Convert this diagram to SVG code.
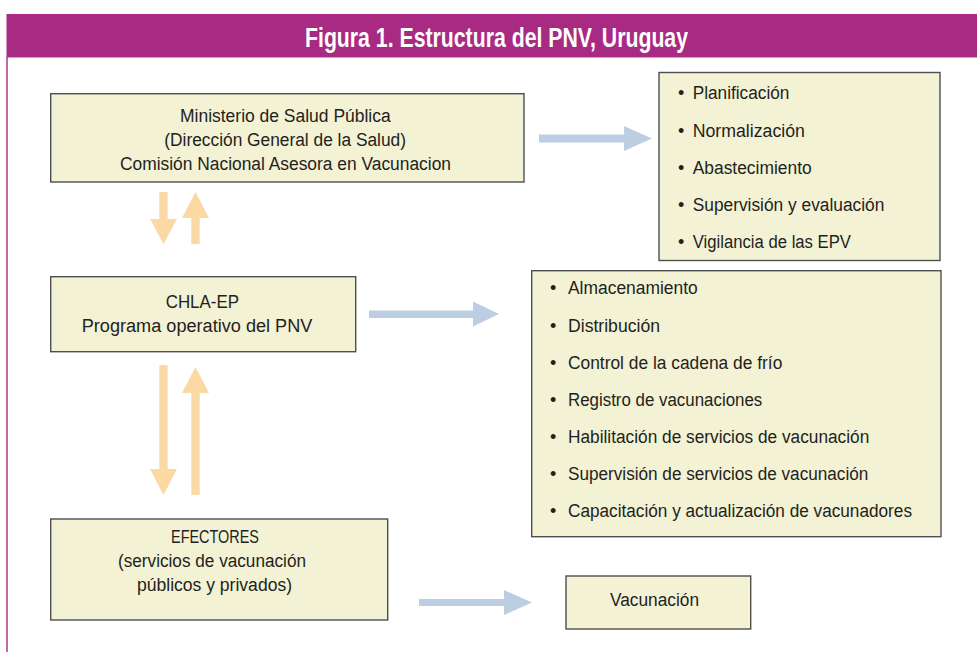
<svg xmlns="http://www.w3.org/2000/svg" width="977" height="652" viewBox="0 0 977 652">
<style>
.box{fill:#F3F2D4;stroke:#4F4F4F;stroke-width:1.4}
.t{font-family:"Liberation Sans",Arial,sans-serif;font-size:18px;fill:#231F20}
.title{font-family:"Liberation Sans",Arial,sans-serif;font-size:27px;font-weight:bold;fill:#FFFFFF}
.orange{fill:#FAD9A4}
.blue{fill:#BDCEE2}
</style>
<rect x="0" y="0" width="977" height="652" fill="#FFFFFF"/>
<g id="header">
<rect x="6.5" y="14" width="971" height="43" fill="#A82A82"/>
<line x1="6.5" y1="57.5" x2="977" y2="57.5" stroke="#D89CC6" stroke-width="1"/>
<line x1="7" y1="57" x2="7" y2="652" stroke="#A82A82" stroke-width="1.4"/>
<text class="title" x="305" y="47" textLength="383" lengthAdjust="spacingAndGlyphs">Figura 1. Estructura del PNV, Uruguay</text>
</g>
<g id="connectors">
<polygon class="orange" points="159.3,192 167.7,192 167.7,219 177,219 163.5,244 150,219 159.3,219"/>
<polygon class="orange" points="191.3,244 199.7,244 199.7,218 209,218 195.5,192 182,218 191.3,218"/>
<polygon class="orange" points="159.3,365 167.7,365 167.7,469 177,469 163.5,495 150,469 159.3,469"/>
<polygon class="orange" points="191.3,495 199.7,495 199.7,393 209,393 195.5,367 182,393 191.3,393"/>
<polygon class="blue" points="539,134.5 624,134.5 624,126 652,138.5 624,151 624,142.5 539,142.5"/>
<polygon class="blue" points="369,310.5 473,310.5 473,301.5 499,314 473,326.5 473,318 369,318"/>
<polygon class="blue" points="419,599 504,599 504,590 532,602.5 504,615 504,606 419,606"/>
</g>
<g id="node-msp">
<rect class="box" x="50.7" y="93.7" width="473.3" height="88.3"/>
<text class="t" x="180" y="121.7" textLength="210.7" lengthAdjust="spacingAndGlyphs">Ministerio de Salud Pública</text>
<text class="t" x="164.3" y="145.7" textLength="241.7" lengthAdjust="spacingAndGlyphs">(Dirección General de la Salud)</text>
<text class="t" x="120" y="170" textLength="331" lengthAdjust="spacingAndGlyphs">Comisión Nacional Asesora en Vacunacion</text>
</g>
<g id="node-funciones-msp">
<rect class="box" x="659" y="72.5" width="281" height="188"/>
<text class="t" x="678" y="99.3">•</text>
<text class="t" x="692.7" y="99.3" textLength="96.7" lengthAdjust="spacingAndGlyphs">Planificación</text>
<text class="t" x="678" y="136.7">•</text>
<text class="t" x="692.7" y="136.7" textLength="112.3" lengthAdjust="spacingAndGlyphs">Normalización</text>
<text class="t" x="678" y="173.5">•</text>
<text class="t" x="692.7" y="173.5" textLength="119" lengthAdjust="spacingAndGlyphs">Abastecimiento</text>
<text class="t" x="678" y="210.7">•</text>
<text class="t" x="692.7" y="210.7" textLength="191.7" lengthAdjust="spacingAndGlyphs">Supervisión y evaluación</text>
<text class="t" x="678" y="247.7">•</text>
<text class="t" x="692.7" y="247.7" textLength="158.3" lengthAdjust="spacingAndGlyphs">Vigilancia de las EPV</text>
</g>
<g id="node-chla">
<rect class="box" x="50.7" y="276.7" width="305" height="75"/>
<text class="t" x="165.7" y="308.3" textLength="73.3" lengthAdjust="spacingAndGlyphs">CHLA-EP</text>
<text class="t" x="81.7" y="331.7" textLength="230.7" lengthAdjust="spacingAndGlyphs">Programa operativo del PNV</text>
</g>
<g id="node-funciones-chla">
<rect class="box" x="531.7" y="270.7" width="409.3" height="266"/>
<text class="t" x="550" y="294.3">•</text>
<text class="t" x="568" y="294.3" textLength="129.7" lengthAdjust="spacingAndGlyphs">Almacenamiento</text>
<text class="t" x="550" y="331.7">•</text>
<text class="t" x="568" y="331.7" textLength="92" lengthAdjust="spacingAndGlyphs">Distribución</text>
<text class="t" x="550" y="369">•</text>
<text class="t" x="568" y="369" textLength="214.3" lengthAdjust="spacingAndGlyphs">Control de la cadena de frío</text>
<text class="t" x="550" y="405.7">•</text>
<text class="t" x="568" y="405.7" textLength="194.3" lengthAdjust="spacingAndGlyphs">Registro de vacunaciones</text>
<text class="t" x="550" y="442.7">•</text>
<text class="t" x="568" y="442.7" textLength="301.3" lengthAdjust="spacingAndGlyphs">Habilitación de servicios de vacunación</text>
<text class="t" x="550" y="479.7">•</text>
<text class="t" x="568" y="479.7" textLength="300.3" lengthAdjust="spacingAndGlyphs">Supervisión de servicios de vacunación</text>
<text class="t" x="550" y="516.5">•</text>
<text class="t" x="568" y="516.5" textLength="344" lengthAdjust="spacingAndGlyphs">Capacitación y actualización de vacunadores</text>
</g>
<g id="node-efectores">
<rect class="box" x="50.7" y="519" width="337" height="101"/>
<text class="t" x="171" y="543" textLength="88" lengthAdjust="spacingAndGlyphs">EFECTORES</text>
<text class="t" x="118" y="567" textLength="188" lengthAdjust="spacingAndGlyphs">(servicios de vacunación</text>
<text class="t" x="137" y="590.7" textLength="155" lengthAdjust="spacingAndGlyphs">públicos y privados)</text>
</g>
<g id="node-vacunacion">
<rect class="box" x="566" y="576" width="184.7" height="53"/>
<text class="t" x="610" y="605.7" textLength="89" lengthAdjust="spacingAndGlyphs">Vacunación</text>
</g>
</svg>
